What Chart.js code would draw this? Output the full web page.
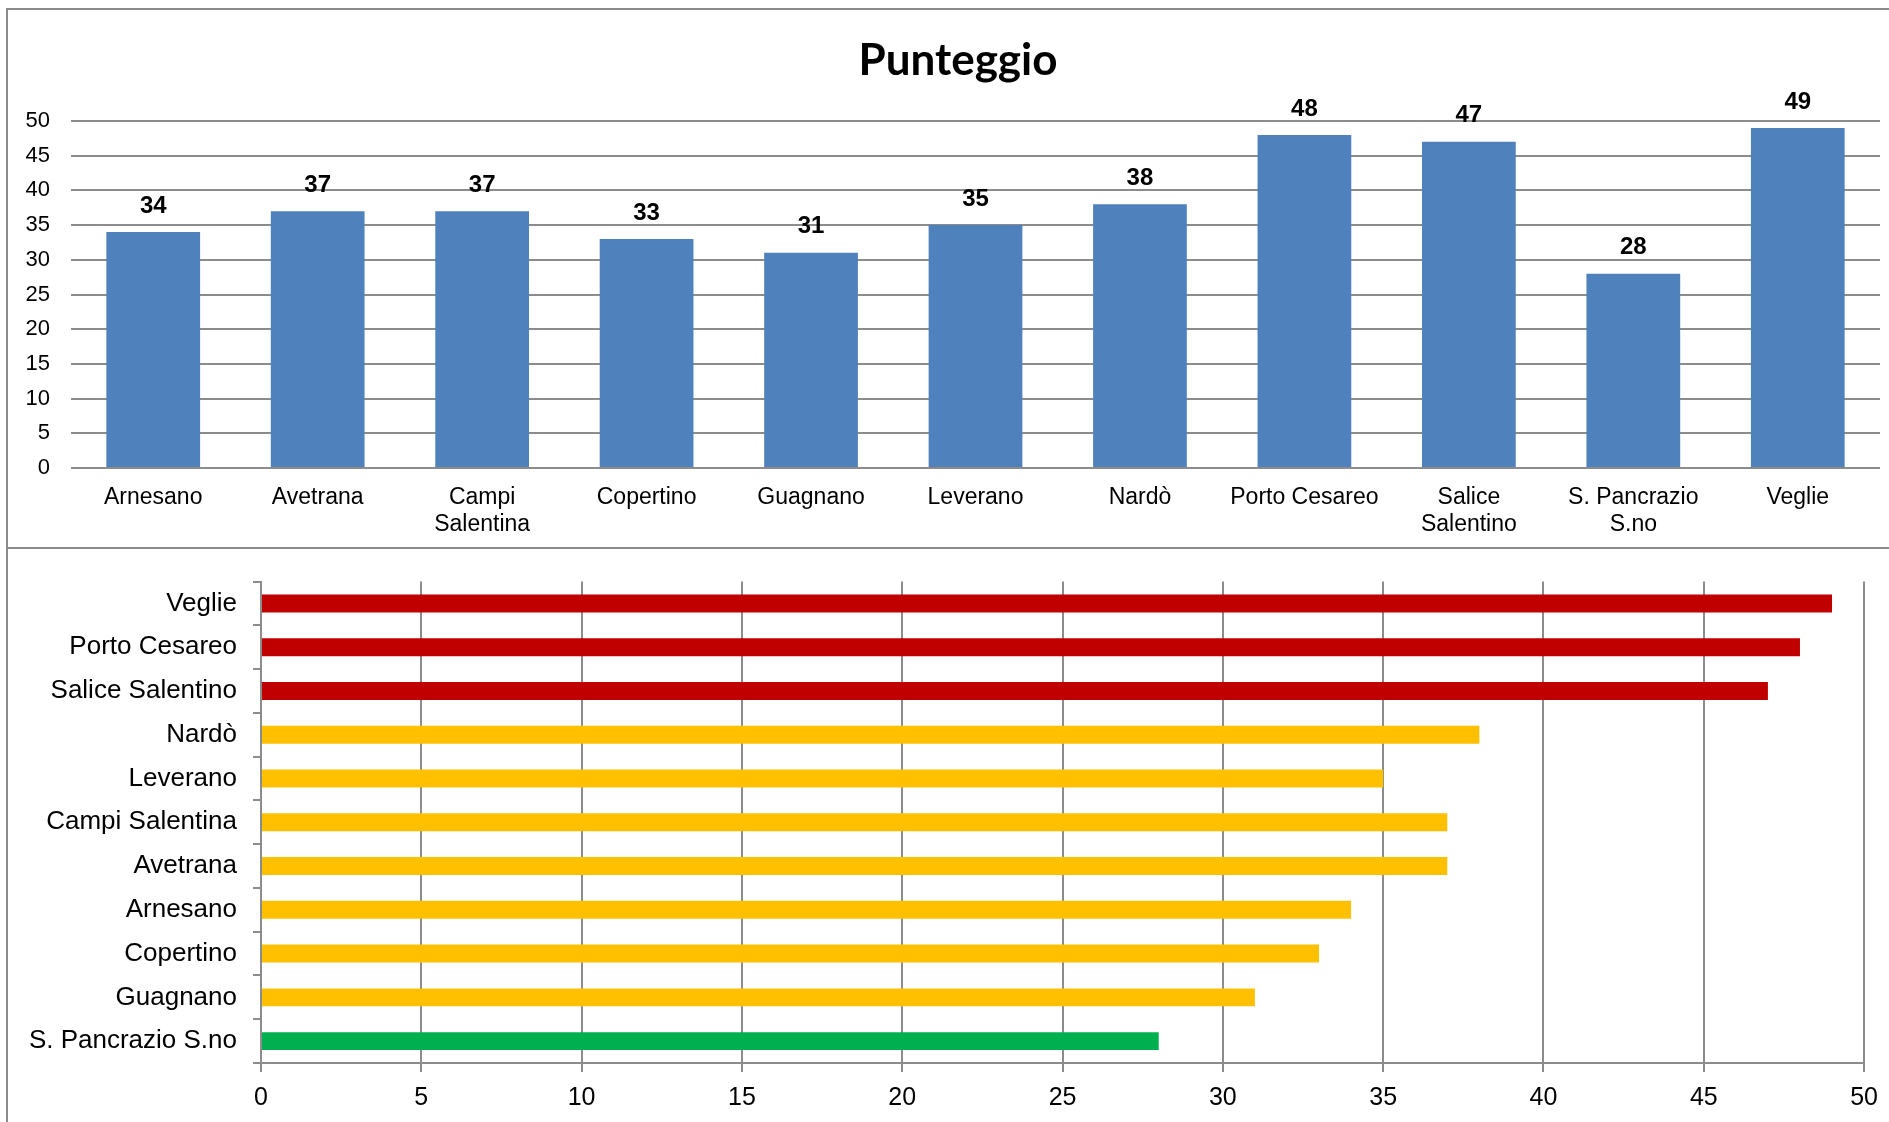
<!DOCTYPE html>
<html>
<head>
<meta charset="utf-8">
<script src="https://cdn.jsdelivr.net/npm/chart.js@4.4.1/dist/chart.umd.min.js"></script>
<style>
  html, body { margin: 0; padding: 0; background: #ffffff; overflow: hidden; }
  body { width: 1889px; height: 1122px; position: relative; }
  #frame { position: absolute; left: 6px; top: 8px; width: 1900px; height: 1200px;
           border-left: 2px solid #8c8c8c; border-top: 2px solid #8c8c8c; }
  #sep { position: absolute; left: 6px; top: 547px; width: 1900px; height: 2px; background: #8c8c8c; }
  #c1wrap { position: absolute; left: 8px; top: 10px; width: 1881px; height: 537px; }
  #c2wrap { position: absolute; left: 8px; top: 550px; width: 1881px; height: 572px; }
  canvas { display: block; }
</style>
</head>
<body>
<div id="frame"></div>
<div id="sep"></div>
<div id="c1wrap"><canvas id="c1" width="1881" height="537"></canvas></div>
<div id="c2wrap"><canvas id="c2" width="1881" height="572"></canvas></div>
<script>
// ---- Data ----
const titleText = 'Punteggio';
const categoriesTop = ['Arnesano', 'Avetrana', ['Campi', 'Salentina'], 'Copertino', 'Guagnano', 'Leverano', 'Nardò', 'Porto Cesareo', ['Salice', 'Salentino'], ['S. Pancrazio', 'S.no'], 'Veglie'];
const valuesTop = [34, 37, 37, 33, 31, 35, 38, 48, 47, 28, 49];
const categoriesBottom = ['Veglie', 'Porto Cesareo', 'Salice Salentino', 'Nardò', 'Leverano', 'Campi Salentina', 'Avetrana', 'Arnesano', 'Copertino', 'Guagnano', 'S. Pancrazio S.no'];
const valuesBottom = [49, 48, 47, 38, 35, 37, 37, 34, 33, 31, 28];
const axisMin = 0, axisMax = 50, axisStep = 5;

// ---- Styles ----
const GRID = '#8c8c8c';
const BLUE = '#4f81bd';
const FONT = "'Liberation Sans', Arial, sans-serif";
function bandColor(v) {
  if (v >= 45) return '#c00000';
  if (v >= 30) return '#ffc000';
  return '#00b050';
}

const valueLabels = {
  id: 'valueLabels',
  afterDatasetsDraw(chart) {
    const ctx = chart.ctx;
    const meta = chart.getDatasetMeta(0);
    ctx.save();
    ctx.font = "bold 24px " + FONT;
    ctx.fillStyle = '#000000';
    ctx.textAlign = 'center';
    ctx.textBaseline = 'middle';
    meta.data.forEach((bar, i) => {
      ctx.fillText(String(chart.data.datasets[0].data[i]), bar.x, bar.y - 26);
    });
    ctx.restore();
  }
};

const titleDraw = {
  id: 'titleDraw',
  afterDraw(chart) {
    const ctx = chart.ctx;
    ctx.save();
    ctx.font = "bold 44px Lato, 'Open Sans', sans-serif";
    ctx.fillStyle = '#000000';
    ctx.textAlign = 'center';
    ctx.textBaseline = 'alphabetic';
    ctx.fillText(titleText, 950, 65);
    ctx.restore();
  }
};

new Chart(document.getElementById('c1'), {
  type: 'bar',
  data: {
    labels: categoriesTop,
    datasets: [{ data: valuesTop, backgroundColor: BLUE, borderWidth: 0,
                 barPercentage: 0.57, categoryPercentage: 1.0 }]
  },
  options: {
    responsive: false,
    animation: false,
    devicePixelRatio: 1,
    layout: { padding: { left: 0, right: 9, top: 111, bottom: 0 } },
    plugins: {
      legend: { display: false },
      tooltip: { enabled: false },
      title: { display: false }
    },
    scales: {
      x: {
        grid: { display: false, drawTicks: false },
        border: { display: false },
        ticks: { color: '#000000', font: { family: FONT, size: 23, lineHeight: 1.17 }, padding: 16, maxRotation: 0, autoSkip: false },
        afterFit(scale) { scale.height = 79; }
      },
      y: {
        min: axisMin, max: axisMax,
        grid: { color: GRID, lineWidth: 2, drawTicks: false },
        border: { display: false },
        ticks: { stepSize: axisStep, color: '#000000', font: { family: FONT, size: 22 }, padding: 21 },
        afterFit(scale) { scale.width = 63; }
      }
    }
  },
  plugins: [valueLabels, titleDraw]
});

new Chart(document.getElementById('c2'), {
  type: 'bar',
  data: {
    labels: categoriesBottom,
    datasets: [{ data: valuesBottom, backgroundColor: valuesBottom.map(bandColor), borderWidth: 0,
                 barPercentage: 0.41, categoryPercentage: 1.0 }]
  },
  options: {
    indexAxis: 'y',
    responsive: false,
    animation: false,
    devicePixelRatio: 1,
    layout: { padding: { left: 0, right: 24, top: 23, bottom: 0 } },
    plugins: { legend: { display: false }, tooltip: { enabled: false }, title: { display: false } },
    scales: {
      y: {
        grid: { drawOnChartArea: false, drawTicks: true, tickLength: 8, color: GRID, lineWidth: 2, offset: true },
        border: { display: true, color: GRID, width: 2 },
        ticks: { color: '#000000', font: { family: FONT, size: 26 }, padding: 16, autoSkip: false },
        afterFit(scale) { scale.width = 253; }
      },
      x: {
        min: axisMin, max: axisMax,
        grid: { color: GRID, lineWidth: 2, drawTicks: true, tickLength: 9 },
        border: { display: true, color: GRID, width: 2 },
        ticks: { stepSize: axisStep, color: '#000000', font: { family: FONT, size: 25 }, padding: 11 },
        afterFit(scale) { scale.height = 59; }
      }
    }
  }
});
</script>
</body>
</html>
